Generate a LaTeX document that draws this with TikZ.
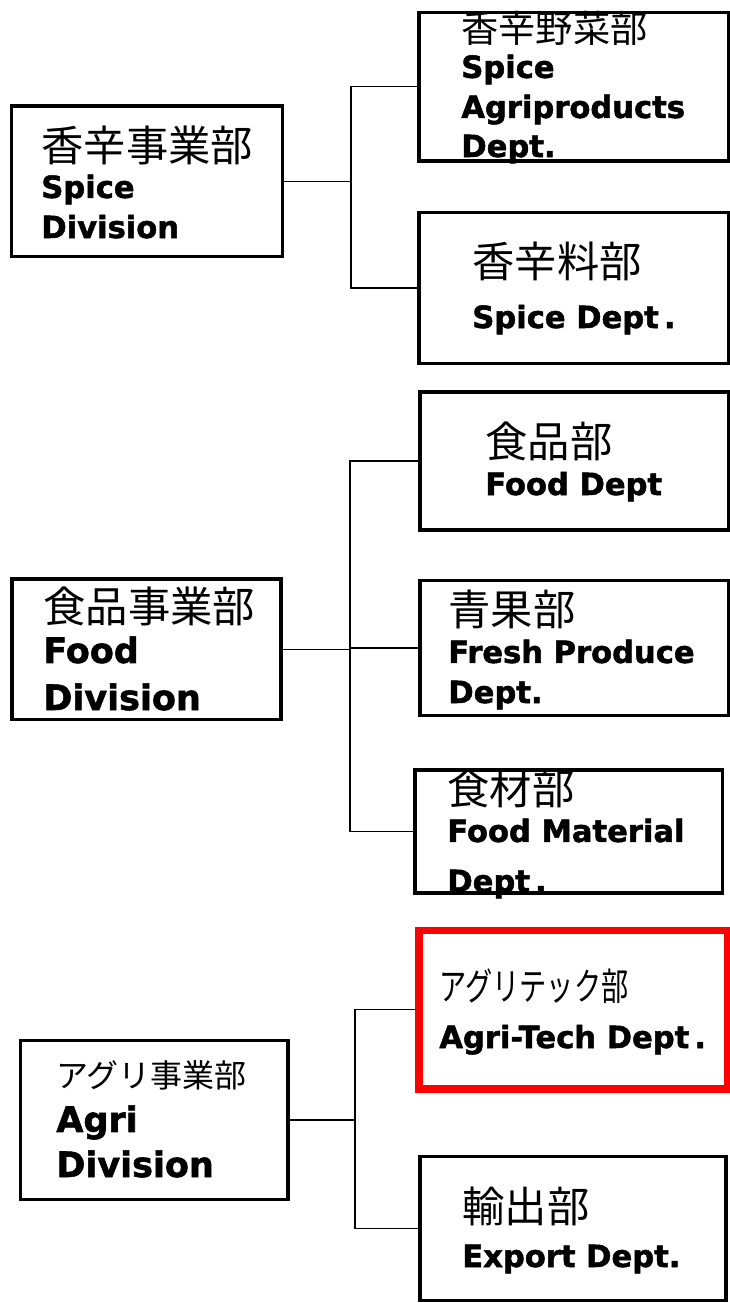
\documentclass[tikz,border=0pt]{standalone}
\usepackage{graphicx}
\usepackage{fontspec}
\setmainfont{DejaVu Sans}[BoldFeatures={FakeBold=1.6}]
\newfontfamily\jp{Noto Sans CJK JP}
\usetikzlibrary{positioning}

\newlength\pxu
\setlength\pxu{0.569pt}
\newcommand\jpl[2][24.1pt]{{\jp\mdseries\fontsize{#1}{#1}\selectfont #2}}

\begin{document}
\begin{tikzpicture}[x=0.02cm,y=-0.02cm,
  box/.style={draw,line width=2pt,shape=rectangle,inner sep=0pt},
  redbox/.style={box,draw=red,line width=4.5pt},
  link/.style={line width=0.6pt},
  lbl/.style={anchor=base west,align=left,inner sep=0pt,font=\bfseries\fontsize{17.4pt}{22.8pt}\selectfont},
  divlbl/.style={lbl,font=\bfseries\fontsize{19.9pt}{26.2pt}\selectfont}]

\fill[white] (0,0) rectangle (730,1303);
\useasboundingbox (0,0) rectangle (730,1303);

% Spice division and its departments
\node[box,minimum width=271\pxu,minimum height=150.5\pxu] (sdiv) at (147,181.25) {};
\node[box,minimum width=309.5\pxu,minimum height=148.5\pxu] (sagr) at (573.75,86.75) {};
\node[box,minimum width=309.5\pxu,minimum height=151\pxu] (sdep) at (573.75,288) {};

% labels sit on the baseline of their last line
\node[lbl] (sdiv-t) at (41,238) {\jpl{香辛事業部}\\[-4\pxu] Spice\\Division};
\node[lbl] (sagr-t) at (461,157) {\jpl[21.2pt]{香辛野菜部}\\[-5\pxu] Spice\\Agriproducts\\[-1\pxu] Dept.};
\node[lbl] (sdep-t) at (472,328) {\jpl{香辛料部}\\[10\pxu] Spice Dept\,.};

% Food division and its departments
\node[box,minimum width=269\pxu,minimum height=140.5\pxu] (fdiv) at (146.5,649.25) {};
\node[box,minimum width=308.5\pxu,minimum height=138\pxu] (fdep) at (574.25,461) {};
\node[box,minimum width=308.5\pxu,minimum height=135\pxu] (ffre) at (574.25,648) {};
\node[box,minimum width=307.5\pxu,minimum height=123\pxu] (fmat) at (568.75,831.5) {};

\node[divlbl] (fdiv-t) at (43,710) {\jpl{食品事業部}\\[-6\pxu] Food\\[1\pxu] Division};
\node[lbl] (fdep-t) at (485,495) {\jpl{食品部}\\[-3\pxu] Food Dept};
\node[lbl] (ffre-t) at (448,703) {\jpl{青果部}\\[-3\pxu] Fresh Produce\\Dept.};
\node[lbl] (fmat-t) at (447,892) {\jpl{食材部}\\[-3\pxu] Food Material\\[10\pxu] Dept\,.};

% Agri division and its departments
\node[box,minimum width=267.5\pxu,minimum height=159\pxu] (adiv) at (154.25,1120) {};
\node[redbox,minimum width=309\pxu,minimum height=158.5\pxu] (atec) at (573,1009.75) {};
\node[box,minimum width=306\pxu,minimum height=144\pxu] (aexp) at (573,1228.5) {};

\node[divlbl] (adiv-t) at (56,1177) {\jpl[18.2pt]{アグリ事業部}\\[-2\pxu] Agri\\[-1\pxu] Division};
\node[lbl] (atec-t) at (439,1048) {\jpl[21.5pt]{\scalebox{0.72}[1]{アグリテック部}}\\[7\pxu] Agri-Tech Dept\,.};
\node[lbl] (aexp-t) at (462,1267) {\jpl{輸出部}\\[4\pxu] Export Dept.};

% Links between the divisions and departments
\coordinate (sj) at (351,0);
\coordinate (fj) at (350,0);
\coordinate (aj) at (355,0);

\draw[link] (sdiv.east) -- (sdiv.east -| sj) |- (sagr.west);
\draw[link] (sdiv.east -| sj) |- (sdep.west);

\draw[link] (fdiv.east) -- (fdiv.east -| fj) |- (fdep.west);
\draw[link] (fdiv.east -| fj) |- (ffre.west);
\draw[link] (fdiv.east -| fj) |- (fmat.west);

\draw[link] (adiv.east) -- (adiv.east -| aj) |- (atec.west);
\draw[link] (adiv.east -| aj) |- (aexp.west);

\end{tikzpicture}
\end{document}
